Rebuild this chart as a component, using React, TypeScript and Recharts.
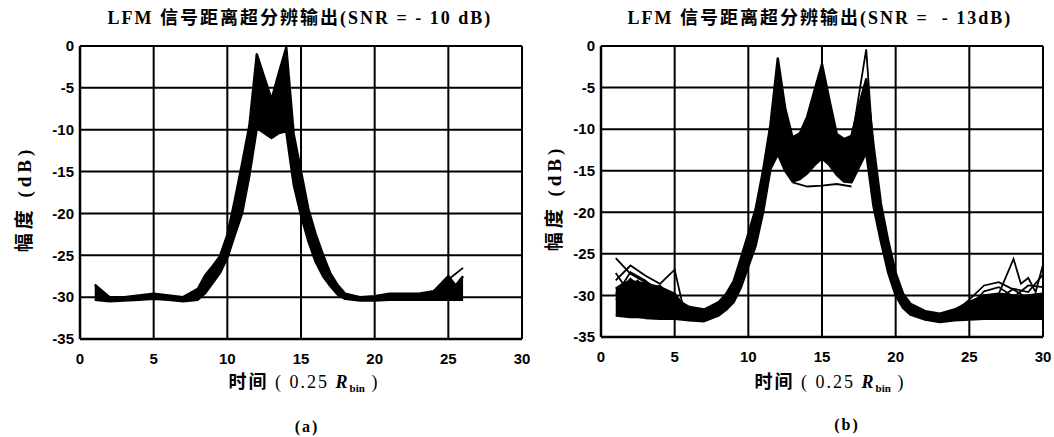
import React from "react";
import { ComposedChart, Area, Line, XAxis, YAxis, CartesianGrid } from "recharts";

// (a) SNR = -10 dB : envelope of the overlaid runs, low / high edge
const aBandX = [1, 2, 3, 4, 5, 6, 7, 8, 8.5, 9, 9.5, 10, 10.5, 11, 11.5, 12, 12.5, 13, 13.5, 14, 14.5, 15, 15.5, 16, 16.5, 17, 17.5, 18, 19, 20, 21, 22, 23, 24, 24.5, 25, 25.5, 26];
const aBandHi = [-28.5, -30.0, -30.0, -29.8, -29.6, -29.8, -30.0, -29.0, -27.4, -26.3, -25.1, -22.6, -18.5, -14.1, -9.5, -1.0, -3.7, -6.4, -3.2, -0.2, -10.5, -15.0, -19.5, -22.5, -25.0, -27.2, -28.6, -29.6, -30.0, -29.9, -29.6, -29.6, -29.6, -29.3, -28.4, -27.5, -28.6, -27.5];
const aBandLo = [-30.3, -30.5, -30.4, -30.3, -30.2, -30.3, -30.5, -30.3, -29.5, -28.3, -27.1, -25.3, -22.6, -20.0, -15.4, -9.8, -10.4, -11.0, -10.4, -10.2, -16.5, -20.2, -23.3, -25.8, -27.5, -28.7, -29.7, -30.2, -30.4, -30.4, -30.3, -30.3, -30.3, -30.3, -30.3, -30.3, -30.3, -30.3];
const aOut1X = [24, 25, 26];
const aOut1Y = [-29.4, -27.9, -26.5];

// (b) SNR = -13 dB
const bBandX = [1, 1.5, 2, 2.5, 3, 4, 5, 5.5, 6, 7, 8, 8.5, 9, 9.5, 10, 10.5, 11, 11.5, 12, 12.5, 13, 13.5, 14, 14.5, 15, 15.5, 16, 16.5, 17, 17.5, 18, 18.5, 19, 19.5, 20, 20.5, 21, 22, 23, 24, 25, 26, 27, 28, 28.5, 29, 29.5, 30];
const bBandHi = [-29.2, -28.6, -28.3, -28.4, -28.6, -29.0, -29.8, -31.0, -31.4, -31.7, -30.8, -29.8, -28.3, -25.5, -22.6, -19.6, -15.0, -9.5, -1.5, -7.5, -11.0, -10.5, -8.5, -5.3, -2.2, -6.5, -10.6, -11.2, -10.8, -7.2, -4.0, -12.0, -19.0, -23.5, -27.3, -29.8, -31.0, -31.9, -32.2, -31.7, -30.8, -30.0, -29.8, -30.0, -30.1, -30.0, -29.9, -29.8];
const bBandLo = [-32.4, -32.5, -32.6, -32.6, -32.7, -32.8, -32.8, -32.9, -33.0, -33.1, -32.4, -31.7, -30.8, -29.0, -26.5, -24.0, -20.0, -14.8, -13.0, -15.0, -16.3, -16.0, -15.3, -14.3, -13.5, -14.3, -15.5, -16.3, -16.4, -14.6, -12.8, -19.3, -23.5, -27.3, -30.0, -31.5, -32.3, -32.9, -33.2, -33.0, -32.9, -32.8, -32.8, -32.8, -32.8, -32.8, -32.8, -32.8];
const bOut1X = [1, 2, 3, 4, 5, 6];
const bOut1Y = [-25.5, -27.4, -28.4, -29.3, -30.3, -31.4];
const bOut2X = [1, 2, 3, 4, 5, 5.5, 6];
const bOut2Y = [-28.2, -26.4, -27.6, -28.6, -26.9, -30.8, -31.6];
const bOut3X = [1, 1.5, 2, 3, 4];
const bOut3Y = [-27.3, -28.6, -27.2, -28.2, -29.6];
const bOut4X = [17, 18, 18.5];
const bOut4Y = [-11.5, -0.4, -13.0];
const bOut5X = [13, 14, 15, 16, 17];
const bOut5Y = [-16.4, -16.9, -16.8, -16.6, -16.9];
const bOut6X = [24, 25, 26, 27, 28, 29, 30];
const bOut6Y = [-32.0, -30.5, -28.8, -28.4, -29.3, -30.4, -30.2];
const bOut7X = [26, 27, 28, 28.5, 29, 29.5, 30];
const bOut7Y = [-31.0, -29.8, -25.6, -28.6, -27.9, -29.6, -26.3];
const bOut8X = [25, 26, 27, 28, 29, 30];
const bOut8Y = [-31.0, -30.0, -30.4, -29.2, -29.6, -27.5];
const bOut9X = [1, 2, 3, 4, 5, 6];
const bOut9Y = [-29.8, -28.0, -29.5, -28.8, -30.5, -31.8];
const bOut10X = [1, 2, 2.5, 3, 4, 5];
const bOut10Y = [-30.5, -29.0, -28.2, -29.8, -29.2, -31.2];
const bOut11X = [25, 26, 27, 28, 29, 30];
const bOut11Y = [-31.5, -29.5, -29.0, -30.2, -28.8, -29.0];

const xTicks = [0, 5, 10, 15, 20, 25, 30];
const yTicks = [0, -5, -10, -15, -20, -25, -30, -35];

type Series = { key: string; xs: number[]; ys: number[] };

function buildRows(bandX: number[], bandLo: number[], bandHi: number[], lines: Series[]) {
  const map = new Map<number, any>();
  const row = (x: number) => {
    if (!map.has(x)) map.set(x, { x });
    return map.get(x);
  };
  bandX.forEach((x, i) => (row(x).band = [bandLo[i], bandHi[i]]));
  lines.forEach((s) => s.xs.forEach((x, i) => (row(x)[s.key] = s.ys[i])));
  return [...map.values()].sort((a, b) => a.x - b.x);
}

const aLines: Series[] = [{ key: "o1", xs: aOut1X, ys: aOut1Y }];
const bLines: Series[] = [
  { key: "o1", xs: bOut1X, ys: bOut1Y },
  { key: "o2", xs: bOut2X, ys: bOut2Y },
  { key: "o3", xs: bOut3X, ys: bOut3Y },
  { key: "o4", xs: bOut4X, ys: bOut4Y },
  { key: "o5", xs: bOut5X, ys: bOut5Y },
  { key: "o6", xs: bOut6X, ys: bOut6Y },
  { key: "o7", xs: bOut7X, ys: bOut7Y },
  { key: "o8", xs: bOut8X, ys: bOut8Y },
  { key: "o9", xs: bOut9X, ys: bOut9Y },
  { key: "o10", xs: bOut10X, ys: bOut10Y },
  { key: "o11", xs: bOut11X, ys: bOut11Y },
];

const aRows = buildRows(aBandX, aBandLo, aBandHi, aLines);
const bRows = buildRows(bBandX, bBandLo, bBandHi, bLines);

const tickFont = { fill: "#000", fontSize: 15, fontWeight: 700, fontFamily: "'Liberation Sans', Arial, sans-serif" };
const serif = "'Liberation Serif', 'Noto Sans CJK SC', serif";

interface PanelProps {
  rows: any[];
  lines: Series[];
  left: number;
  yWidth: number;
  right: number;
  bottom: number;
}

function Panel({ rows, lines, left, yWidth, right, bottom }: PanelProps) {
  return (
    <div style={{ position: "absolute", left, top: 0 }}>
      <ComposedChart width={530} height={437} data={rows} margin={{ top: 46, right, bottom, left: 0 }}>
        <CartesianGrid stroke="#000" strokeWidth={2} strokeOpacity={1} />
        <XAxis
          dataKey="x"
          type="number"
          domain={[0, 30]}
          ticks={xTicks}
          interval={0}
          height={30}
          tickLine={false}
          tickSize={0}
          tickMargin={14}
          axisLine={{ stroke: "#000", strokeWidth: 2.5 }}
          tick={tickFont}
        />
        <YAxis
          type="number"
          domain={[-35, 0]}
          ticks={yTicks}
          interval={0}
          width={yWidth}
          tickLine={false}
          tickSize={0}
          tickMargin={6}
          axisLine={{ stroke: "#000", strokeWidth: 2.5 }}
          tick={tickFont}
        />
        <Area
          type="linear"
          dataKey="band"
          stroke="#000"
          strokeWidth={2.5}
          strokeLinejoin="round"
          fill="#000"
          fillOpacity={1}
          connectNulls
          dot={false}
          activeDot={false}
          isAnimationActive={false}
        />
        {lines.map((s) => (
          <Line
            key={s.key}
            type="linear"
            dataKey={s.key}
            stroke="#000"
            strokeWidth={1.8}
            dot={false}
            activeDot={false}
            connectNulls
            isAnimationActive={false}
          />
        ))}
      </ComposedChart>
    </div>
  );
}

const titleStyle: React.CSSProperties = {
  position: "absolute",
  top: 8,
  width: 600,
  textAlign: "center",
  fontFamily: serif,
  fontWeight: 700,
  fontSize: 18,
  lineHeight: "20px",
  letterSpacing: 2,
  whiteSpace: "nowrap",
};

function YLabel({ cx, cy }: { cx: number; cy: number }) {
  return (
    <div
      style={{
        position: "absolute",
        left: cx,
        top: cy,
        transform: "translate(-50%, -50%) rotate(-90deg)",
        fontFamily: serif,
        fontSize: 19,
        fontWeight: 700,
        letterSpacing: 4,
        whiteSpace: "nowrap",
        lineHeight: "20px",
      }}
    >
      幅度 (dB)
    </div>
  );
}

function XLabel({ cx, cy }: { cx: number; cy: number }) {
  return (
    <div
      style={{
        position: "absolute",
        left: cx,
        top: cy,
        transform: "translate(-50%, -50%)",
        fontFamily: serif,
        fontSize: 18,
        whiteSpace: "nowrap",
        lineHeight: "20px",
        letterSpacing: 2,
      }}
    >
      <span style={{ fontWeight: 700 }}>时间</span> ( 0.25{" "}
      <span style={{ fontStyle: "italic", fontWeight: 700 }}>R</span>
      <sub style={{ fontSize: 11, fontWeight: 700, letterSpacing: 0 }}>bin</sub> )
    </div>
  );
}

function SubCap({ cx, cy, text }: { cx: number; cy: number; text: string }) {
  return (
    <div
      style={{
        position: "absolute",
        left: cx,
        top: cy,
        transform: "translate(-50%, -50%)",
        fontFamily: serif,
        fontSize: 16,
        fontWeight: 700,
        letterSpacing: 2,
        lineHeight: "18px",
      }}
    >
      {text}
    </div>
  );
}

export default function App() {
  return (
    <div style={{ position: "absolute", left: 0, top: 0, width: 1054, height: 437, background: "#fff", overflow: "hidden" }}>
      <Panel rows={aRows} lines={aLines} left={0} yWidth={80} right={8} bottom={68} />
      <Panel rows={bRows} lines={bLines} left={524} yWidth={77} right={11} bottom={70} />
      <div style={{ ...titleStyle, left: 0 }}>LFM 信号距离超分辨输出(SNR = - 10 dB)</div>
      <div style={{ ...titleStyle, left: 520 }}>LFM 信号距离超分辨输出(SNR =&nbsp; - 13dB)</div>
      <YLabel cx={25} cy={199} />
      <YLabel cx={555} cy={198} />
      <XLabel cx={304} cy={385} />
      <XLabel cx={830} cy={385} />
      <SubCap cx={307} cy={427} text="(a)" />
      <SubCap cx={847} cy={425} text="(b)" />
    </div>
  );
}
